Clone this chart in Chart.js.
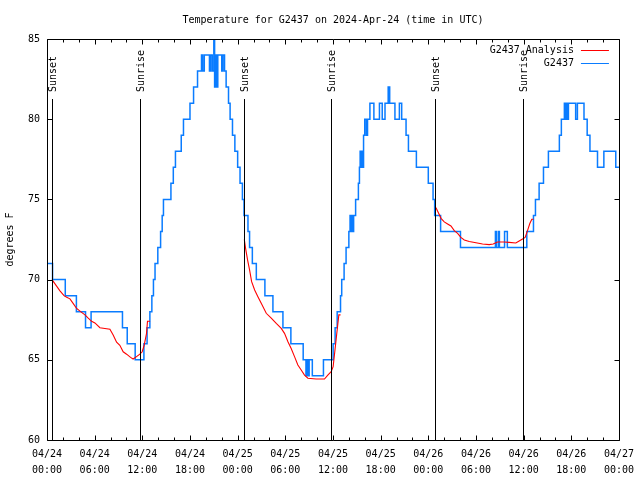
<!DOCTYPE html>
<html><head><meta charset="utf-8">
<script src="https://cdn.jsdelivr.net/npm/chart.js@4.4.1/dist/chart.umd.min.js"></script>
<style>html,body{margin:0;padding:0;background:#fff}canvas{display:block}</style>
</head><body>
<canvas id="c" width="640" height="480"></canvas>
<script>
const titleText = 'Temperature for G2437 on 2024-Apr-24 (time in UTC)';
const yAxisTitle = 'degrees F';
const seriesNames = ['G2437 Analysis', 'G2437'];
const xTickLabels = ['04/24 00:00','04/24 06:00','04/24 12:00','04/24 18:00','04/25 00:00','04/25 06:00','04/25 12:00','04/25 18:00','04/26 00:00','04/26 06:00','04/26 12:00','04/26 18:00','04/27 00:00'];
const yTickValues = [60, 65, 70, 75, 80, 85];

// hours since 04/24 00:00 UTC
const sunHours = [0.63, 11.72, 24.8, 35.73, 48.82, 59.9];
const sunLabels = ['Sunset', 'Sunrise', 'Sunset', 'Sunrise', 'Sunset', 'Sunrise'];

// observed station temperature (value holds until next change)
const obsHours = [0, 0.7, 2.3, 3.7, 4.85, 5.55, 9.5, 10.1, 11.1, 12.2, 12.6, 12.95, 13.2, 13.4, 13.6, 13.95,
  14.3, 14.5, 14.66, 15.6, 15.9, 16.17, 16.9, 17.18, 18.0, 18.45, 18.95, 19.45, 19.6, 19.8, 20.45, 20.6, 20.8,
  21.0, 21.1, 21.25, 21.38, 21.5, 22.0, 22.15, 22.35, 22.55, 22.85, 23.05, 23.35, 23.65, 24.0, 24.3, 24.6, 24.8,
  25.3, 25.5, 25.85, 26.35, 27.43, 28.44, 29.7, 30.7, 32.25, 32.6, 32.75, 32.9, 33.0, 33.4, 34.8,
  36.02, 36.27, 36.53, 36.95, 37.1, 37.4, 37.65, 38.0, 38.15, 38.25, 38.35, 38.45, 38.6, 38.85, 39.2, 39.33,
  39.42, 39.5, 39.6, 39.75, 39.85, 40.0, 40.2, 40.35, 40.65, 41.15, 41.85, 42.2, 42.55, 42.95, 43.14, 43.8,
  44.36, 44.65, 45.2, 45.5, 46.5, 48.0, 48.6, 48.8, 49.55, 52.05, 56.45, 56.6, 56.85, 56.95, 57.6, 57.95,
  60.4, 61.24, 61.49, 61.95, 62.5, 63.12, 64.5, 64.75, 65.13, 65.25, 65.38, 65.5, 65.64, 66.55, 66.77, 67.6,
  68.0, 68.35, 69.3, 70.1, 71.6, 72];
const obsTemps = [71, 70, 69, 68, 67, 68, 67, 66, 65, 66, 67, 68, 69, 70, 71, 72,
  73, 74, 75, 76, 77, 78, 79, 80, 81, 82, 83, 84, 83, 84, 83, 84, 83,
  85, 82, 84, 82, 84, 83, 84, 83, 82, 81, 80, 79, 78, 77, 76, 75, 74,
  73, 72, 71, 70, 69, 68, 67, 66, 65, 64, 65, 64, 65, 64, 65,
  66, 67, 68, 69, 70, 71, 72, 73, 74, 73, 74, 73, 74, 75, 76, 77,
  78, 77, 78, 77, 79, 80, 79, 80, 81, 80, 81, 80, 81, 82, 81, 80,
  81, 80, 79, 78, 77, 76, 75, 74, 73, 72, 73, 72, 73, 72, 73, 72,
  73, 74, 75, 76, 77, 78, 79, 80, 81, 80, 81, 80, 81, 80, 81, 80,
  79, 78, 77, 78, 77, 77];

// analysis (night-time only; null = no analysis)
const anaHours = [0.63, 1.63, 2.14, 2.48, 2.89, 3.31, 3.73, 4.23, 4.78, 5.19, 5.62, 6.03, 6.66, 7.29, 7.92, 8.33,
  8.76, 9.17, 9.59, 10.02, 10.52, 10.84, 11.27, 11.69, 11.98, 12.23, 12.53, 12.65, 12.98,
  13.5,
  24.84, 25.0, 25.26, 25.5, 25.76, 26.14, 26.55, 26.97, 27.6, 28.23, 28.86, 29.49, 29.9, 30.33, 30.74, 31.16,
  31.58, 32.0, 32.42, 32.84, 33.89, 34.93, 35.35, 35.77, 36.02, 36.27, 36.48, 36.74, 36.95,
  40,
  48.84, 49.0, 49.3, 49.6, 50.01, 50.43, 50.85, 51.27, 51.69, 52.1, 52.53, 53.15, 54.0, 54.83, 55.67, 56.17,
  56.71, 57.55, 58.18, 59.02, 59.44, 59.86, 60.19, 60.49, 60.78, 61.03, 61.24];
const anaTemps = [70.0, 69.3, 69.0, 68.9, 68.8, 68.5, 68.2, 68.0, 67.8, 67.6, 67.4, 67.3, 67.0, 66.95, 66.9, 66.55,
  66.1, 65.9, 65.5, 65.35, 65.15, 65.05, 65.2, 65.35, 65.5, 65.9, 66.65, 67.4, 67.4,
  null,
  72.5, 71.95, 71.2, 70.6, 69.87, 69.35, 68.93, 68.52, 67.9, 67.6, 67.27, 66.96, 66.65, 66.13, 65.7, 65.2,
  64.68, 64.36, 64.05, 63.85, 63.8, 63.8, 64.05, 64.26, 64.57, 65.7, 66.65, 67.8, 67.8,
  null,
  74.55, 74.45, 74.13, 73.82, 73.6, 73.47, 73.34, 73.05, 72.88, 72.63, 72.47, 72.38, 72.3, 72.22, 72.18, 72.22,
  72.34, 72.34, 72.32, 72.28, 72.41, 72.53, 72.63, 73.05, 73.5, 73.76, 73.76];

const FONT_FAMILY = "'DejaVu Sans Mono', 'Liberation Mono', monospace";
const FONT = '10px ' + FONT_FAMILY;
const RED = '#ff0000';
const BLUE = '#0a7cff';

const overlay = {
  id: 'overlay',
  afterDatasetsDraw(chart) {
    const {ctx, chartArea: a, scales: {x, y}} = chart;
    ctx.save();
    ctx.strokeStyle = '#000';
    ctx.fillStyle = '#000';
    ctx.lineWidth = 1;
    ctx.font = FONT;
    // sunrise / sunset markers
    sunHours.forEach((h, i) => {
      const px = Math.round(x.getPixelForValue(h)) + 0.5;
      ctx.beginPath();
      ctx.moveTo(px, a.top + 60);
      ctx.lineTo(px, a.bottom);
      ctx.stroke();
      ctx.save();
      ctx.translate(px + 1, a.top + 53);
      ctx.rotate(-Math.PI / 2);
      ctx.textAlign = 'left';
      ctx.textBaseline = 'middle';
      ctx.fillText(sunLabels[i], 0, 0);
      ctx.restore();
    });
    // border
    const L = Math.round(a.left) + 0.5, R = Math.round(a.right) + 0.5;
    const T = Math.round(a.top) + 0.5, B = Math.round(a.bottom) + 0.5;
    ctx.beginPath();
    ctx.rect(L, T, R - L, B - T);
    ctx.stroke();
    // ticks (inward, mirrored)
    ctx.beginPath();
    for (let h = 0; h <= 72; h += 2) {
      const px = Math.round(x.getPixelForValue(h)) + 0.5;
      const len = (h % 6 === 0) ? 5 : 3;
      ctx.moveTo(px, B); ctx.lineTo(px, B - len);
      ctx.moveTo(px, T); ctx.lineTo(px, T + len);
    }
    yTickValues.forEach(v => {
      const py = Math.round(y.getPixelForValue(v)) + 0.5;
      ctx.moveTo(L, py); ctx.lineTo(L + 5, py);
      ctx.moveTo(R, py); ctx.lineTo(R - 5, py);
    });
    ctx.stroke();
    // title
    ctx.textAlign = 'center';
    ctx.textBaseline = 'middle';
    ctx.fillText(titleText, (a.left + a.right) / 2, 20);
    // legend
    const colors = [RED, BLUE];
    seriesNames.forEach((name, i) => {
      const ly = a.top + 11 + i * 13;
      ctx.fillStyle = '#000';
      ctx.textAlign = 'right';
      ctx.fillText(name, a.right - 45, ly);
      ctx.strokeStyle = colors[i];
      ctx.beginPath();
      ctx.moveTo(a.right - 38, Math.round(ly) + 0.5);
      ctx.lineTo(a.right - 10, Math.round(ly) + 0.5);
      ctx.stroke();
    });
    ctx.restore();
  }
};

Chart.defaults.font.family = FONT_FAMILY;
Chart.defaults.font.size = 10;
Chart.defaults.color = '#000';

new Chart(document.getElementById('c'), {
  type: 'line',
  data: {
    datasets: [
      {
        label: seriesNames[0],
        data: anaHours.map((h, i) => ({x: h, y: anaTemps[i]})),
        borderColor: RED, borderWidth: 1.1, pointRadius: 0, spanGaps: false, tension: 0, fill: false
      },
      {
        label: seriesNames[1],
        data: obsHours.map((h, i) => ({x: h, y: obsTemps[i]})),
        borderColor: BLUE, borderWidth: 1.5, pointRadius: 0, stepped: 'before', fill: false
      }
    ]
  },
  options: {
    responsive: false,
    devicePixelRatio: 1,
    animation: false,
    events: [],
    layout: {autoPadding: false, padding: {top: 39, right: 20, left: 0, bottom: 0}},
    plugins: {legend: {display: false}, title: {display: false}, tooltip: {enabled: false}},
    scales: {
      x: {
        type: 'linear', min: 0, max: 72,
        grid: {display: false, drawTicks: false},
        border: {display: false},
        ticks: {
          stepSize: 6, autoSkip: false, maxRotation: 0, padding: 6,
          font: {size: 10, lineHeight: 1.6},
          callback: (v, i) => xTickLabels[i] ? xTickLabels[i].split(' ') : ''
        },
        afterFit: s => { s.height = 40; }
      },
      y: {
        type: 'linear', min: 60, max: 85,
        grid: {display: false, drawTicks: false},
        border: {display: false},
        ticks: {stepSize: 5, padding: 7, font: {size: 10}},
        title: {display: true, text: yAxisTitle, font: {size: 10}, padding: {top: 4, bottom: 0}},
        afterFit: s => { s.width = 47; }
      }
    }
  },
  plugins: [overlay]
});
</script>
</body></html>
